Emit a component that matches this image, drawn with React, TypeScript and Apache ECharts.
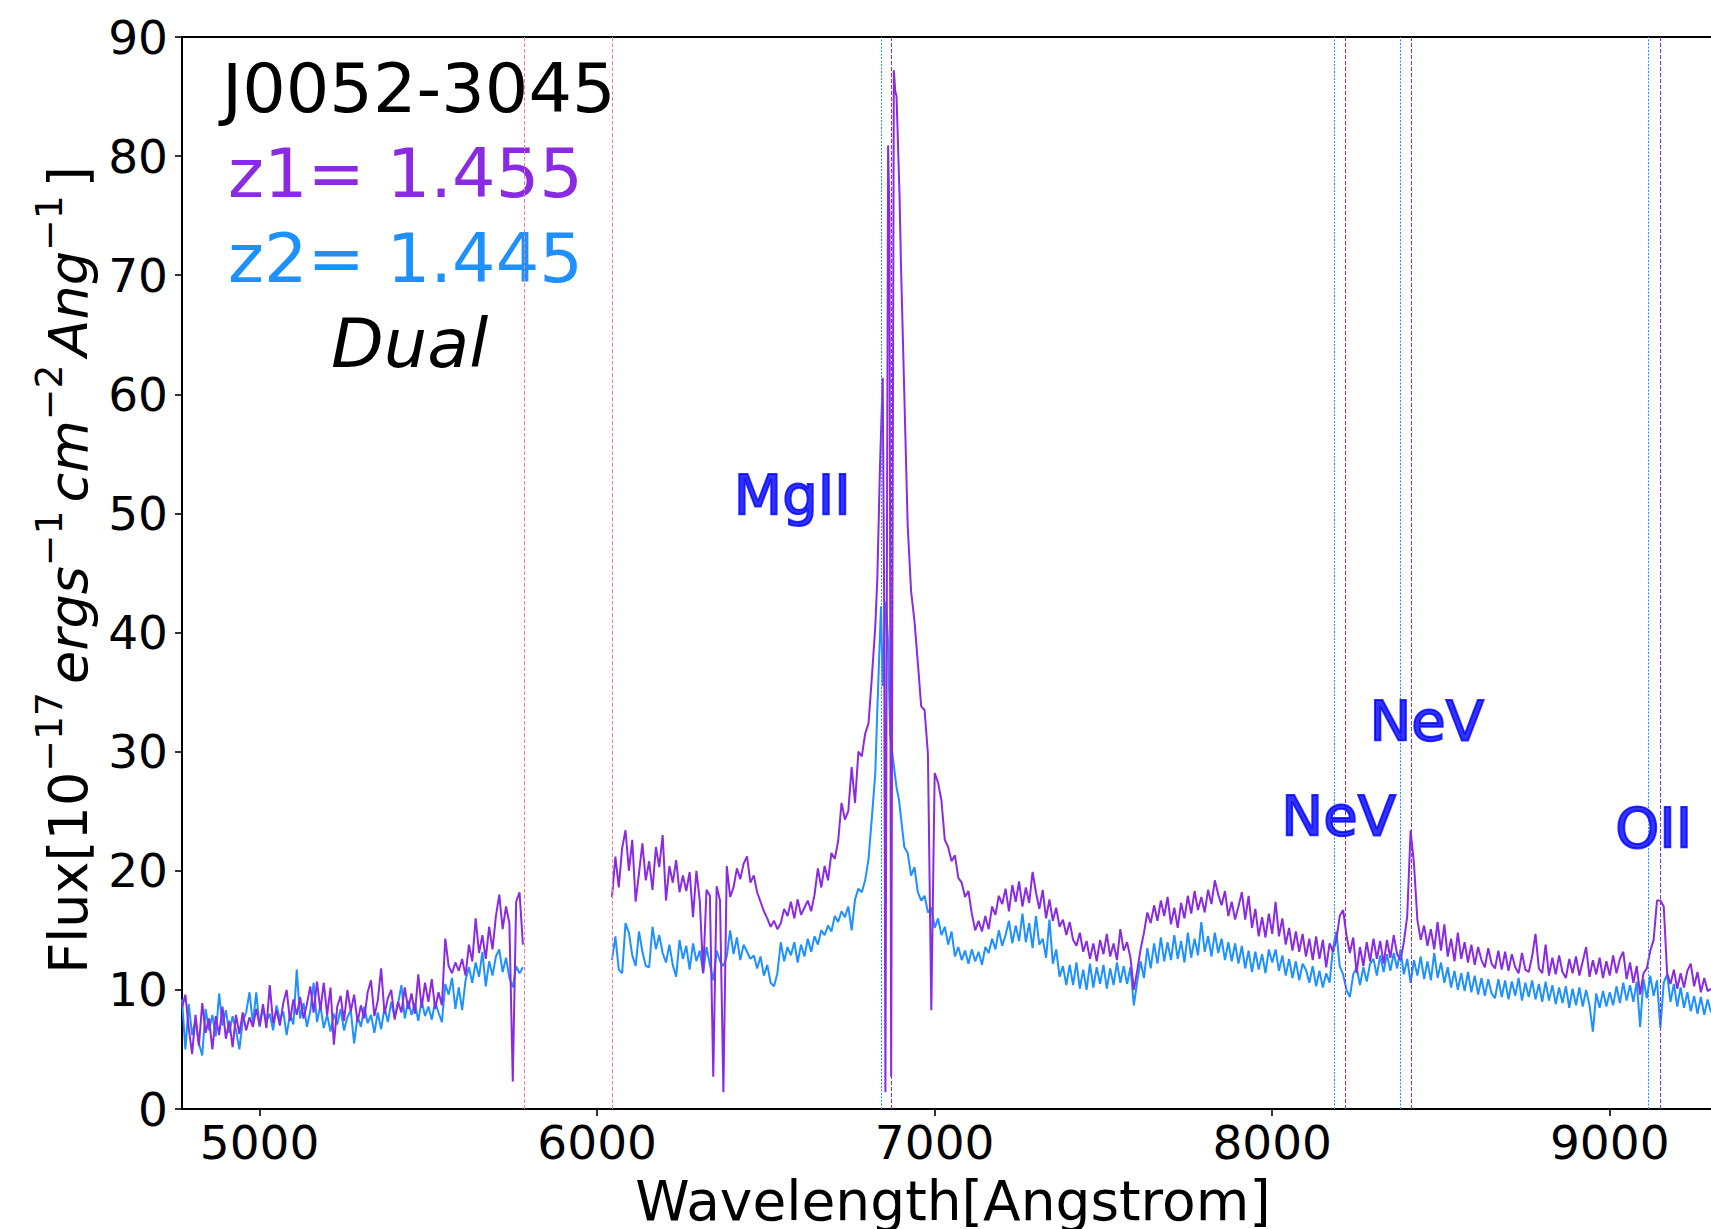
import React, { useEffect, useRef } from 'react';
import * as echarts from 'echarts';

const WIDTH = 1711;
const HEIGHT = 1229;
const FONT = '"DejaVu Sans", "Liberation Sans", sans-serif';

// axes
const X_MIN = 4770;
const X_MAX = 9300;
const X_TICKS = [5000, 6000, 7000, 8000, 9000];
const Y_MIN = 0;
const Y_MAX = 90;
const Y_STEP = 10;

// colours
const C_Z1 = '#8A2BE2';
const C_Z2 = '#1E90FF';
const C_MASK = '#F08494';
const C_LABEL = '#0000FF';

// redshifts and rest-frame lines
const Z1 = 1.455;
const Z2 = 1.445;
const REST_LINES = [2798.75, 3346.8, 3426.8, 3727.4];
const MASK_LINES = [5783, 6044];

// line labels
const LABEL_NAMES = ['MgII', 'NeV', 'NeV', 'OII'];
const LABEL_WL = [6405, 8027, 8288, 9016];
const LABEL_FLUX = [51.6, 24.6, 32.6, 23.6];

// spectrum, segment A (blue side of chip gap), 10 A sampling
const SEG_STEP = 10;
const SEG_A_START = 4770;
const purpleA = [
  8.5, 9.6, 6.8, 4.6, 7.9, 5.3, 8.9, 6.4, 7.6, 5.0,
  7.8, 6.2, 8.6, 5.9, 7.4, 5.2, 7.9, 6.3, 8.1, 6.6,
  7.7, 6.9, 8.4, 7.0, 8.8, 6.8, 10.4, 7.2, 8.3, 7.0,
  8.9, 10.0, 7.4, 9.2, 7.9, 9.4, 7.6, 8.8, 10.3, 8.1,
  10.7, 8.3, 10.6, 7.9, 10.2, 5.4, 8.6, 9.5, 7.4, 10.0,
  8.2, 9.6, 7.3, 8.7, 7.6, 9.8, 10.8, 7.8, 9.1, 11.8,
  8.0, 9.3, 10.0, 7.5, 9.0, 8.1, 10.2, 8.4, 9.7, 8.0,
  11.3, 8.5, 10.6, 9.0, 10.9, 8.4, 9.8, 8.7, 14.3, 12.0,
  11.4, 12.3, 11.6, 12.6, 11.2, 13.8, 12.4, 16.0, 13.1, 14.6,
  12.6, 15.3, 13.4, 16.2, 18.0, 15.1, 17.0, 15.6, 2.3, 17.4,
  18.2, 13.8,
];
const blueA = [
  9.2, 5.0, 8.8, 6.2, 7.5, 5.5, 4.5, 8.4, 6.6, 7.9,
  6.1, 9.7, 7.0, 8.3, 6.4, 7.8, 6.6, 5.0, 7.4, 8.1,
  9.8, 7.2, 9.8, 6.9, 8.5, 7.3, 8.0, 6.6, 8.7, 7.5,
  8.2, 6.2, 8.0, 7.1, 11.7, 7.6, 8.9, 6.9, 8.2, 10.6,
  7.3, 8.7, 6.8, 7.9, 6.5, 8.0, 7.1, 8.4, 6.6, 7.7,
  8.3, 5.5, 7.8, 6.9, 8.6, 7.2, 7.9, 6.4, 8.1, 6.7,
  8.5, 7.3, 9.0, 7.7, 8.8, 10.4, 7.6, 9.1, 7.9, 8.9,
  7.4, 9.1, 7.8, 8.6, 7.5, 9.0, 8.1, 7.3, 10.5, 9.6,
  11.0, 8.4, 10.2, 8.3, 10.8, 11.9, 10.6, 12.3, 11.1, 13.2,
  10.3, 12.4, 11.2, 12.8, 13.4, 11.5, 12.7, 11.0, 10.2, 12.0,
  11.4, 11.9,
];

// segment B (red side of gap up to MgII wing)
const SEG_B_START = 6044;
const purpleB = [
  17.8, 21.2, 18.6, 21.9, 23.4, 20.0, 22.6, 17.4, 19.8, 22.3,
  19.2, 20.8, 18.4, 22.0, 20.3, 23.0, 17.5, 20.4, 19.0, 20.9,
  18.2, 19.6, 18.3, 19.9, 16.1, 20.0, 17.5, 11.4, 18.4, 17.9,
  2.7, 18.7, 17.5, 1.4, 20.4, 17.8, 18.6, 20.2, 19.3, 20.6,
  21.2, 19.0, 19.6, 18.2, 17.4, 16.6, 16.0, 15.3, 15.8, 15.1,
  15.6, 16.8, 16.2, 17.4, 16.0, 17.6, 16.3, 16.9, 17.5, 16.6,
  18.0, 20.2, 18.6, 20.4, 19.2, 21.5, 21.0, 22.5, 25.7, 24.3,
  25.0, 28.7, 25.7, 30.0, 29.6, 31.5, 32.4, 36.3, 40.5,
];
const blueB = [
  12.5, 14.5, 11.7, 11.4, 15.6, 14.8, 12.9, 12.0, 14.9, 13.2,
  12.0, 11.9, 15.3, 13.4, 14.6, 13.1, 12.3, 13.8, 12.1, 11.1,
  14.2, 12.6, 13.7, 11.7, 13.9, 12.4, 13.3, 11.4, 13.6, 12.1,
  10.8, 13.3, 12.4, 12.0, 12.8, 15.0, 13.0, 14.4, 12.5, 13.8,
  13.2, 12.6, 12.9, 11.8, 12.8, 11.2, 12.1, 10.6, 10.3, 11.4,
  14.0, 12.4, 13.6, 12.9, 14.0, 12.3, 13.8, 12.8, 14.3, 13.2,
  14.5, 13.8, 15.0, 14.6, 15.4, 14.9, 16.2, 15.7, 16.6, 16.1,
  17.0, 15.0, 17.6, 18.5, 18.2, 19.2, 21.0, 24.5, 28.2,
];

// MgII core, finer sampling
const corePurpleWl = [6830, 6838, 6846, 6850, 6854, 6862, 6866, 6871, 6879, 6883, 6887, 6896];
const corePurple = [44.5, 54.0, 61.4, 44.0, 1.4, 80.9, 75.0, 2.7, 87.2, 85.5, 85.0, 76.6];
const coreBlueWl = [6830, 6835, 6841, 6846, 6851, 6856, 6862, 6868, 6874, 6880, 6887, 6894];
const coreBlue = [33.5, 37.5, 42.2, 35.5, 40.0, 42.6, 39.0, 31.5, 30.0, 28.6, 27.0, 26.0];

// segment C (6900 - 9300)
const SEG_C_START = 6900;
const purpleC = [
  71.0, 60.0, 49.0, 43.5, 41.0, 37.5, 33.8, 33.5, 29.8, 8.3,
  28.2, 27.4, 25.9, 22.6, 22.0, 20.8, 21.3, 19.4, 19.0, 17.8,
  18.3, 16.4, 15.0, 15.8, 14.9, 16.2, 15.1, 17.0, 16.3, 17.9,
  17.2, 18.5, 16.6, 18.8, 17.4, 19.1, 17.0, 18.6, 17.3, 19.9,
  18.2, 16.8, 18.4, 16.0, 17.6, 15.8, 16.9, 15.3, 15.9, 14.6,
  15.7, 14.2, 13.7, 14.8, 13.2, 14.1, 12.6, 13.9, 12.4, 14.2,
  13.0, 14.7, 12.8, 13.9, 12.5, 15.1, 13.3, 14.0, 12.7, 10.0,
  11.6, 13.4, 14.8, 16.5, 15.6, 17.1, 15.8, 17.5, 16.2, 17.8,
  15.5, 16.9, 15.2, 17.3, 16.0, 17.9, 16.4, 18.3, 16.7, 17.8,
  16.5, 18.4, 17.2, 19.2, 18.0, 17.1, 18.3, 16.2, 17.4, 15.9,
  17.0, 18.2, 15.9, 17.9, 15.2, 16.8, 14.5, 16.1, 14.4, 16.4,
  14.7, 17.4, 14.5, 16.0, 13.8, 15.2, 13.3, 14.9, 13.2, 14.7,
  12.8, 14.3, 12.5, 14.5, 12.6, 14.2, 11.9, 13.9, 13.2, 14.2,
  16.2, 16.7, 14.6, 13.1, 14.4, 11.4, 13.6, 12.0, 14.0, 12.4,
  14.3, 12.6, 14.1, 12.2, 14.2, 12.7, 14.6, 13.0, 12.5, 14.0,
  16.2, 23.4, 20.6, 15.9, 14.2, 15.4, 13.7, 15.1, 13.4, 15.7,
  13.3, 15.5, 12.8, 14.3, 12.4, 14.8, 12.6, 14.0, 12.3, 13.8,
  12.1, 13.6, 12.5, 11.9, 13.5, 12.2, 11.8, 13.3, 11.7, 13.2,
  11.6, 13.0, 11.9, 11.4, 13.1, 11.7, 11.5, 12.8, 14.7, 11.8,
  11.4, 13.8, 11.2, 12.7, 11.3, 12.9, 11.5, 11.0, 12.6, 11.4,
  12.8, 11.2, 12.4, 13.6, 11.1, 12.5, 11.3, 12.7, 11.0, 12.4,
  11.2, 12.9, 11.4, 12.6, 13.2, 10.9, 12.3, 10.6, 12.0, 9.6,
  11.4, 11.8, 13.3, 14.2, 17.5, 17.5, 17.0, 11.4, 10.5, 11.7,
  10.1, 11.4, 10.2, 11.6, 12.2, 10.3, 11.5, 9.8, 11.0, 9.9,
  10.1,
];
const blueC = [
  24.5, 22.0, 21.5, 19.6, 20.3, 18.2, 17.5, 17.9, 16.5, 16.9,
  15.2, 16.0, 14.6, 15.3, 13.8, 14.9, 12.8, 13.6, 12.5, 13.3,
  12.2, 13.4, 12.4, 13.2, 12.1, 13.6, 13.1, 14.3, 13.4, 15.0,
  13.7, 14.6, 15.8, 13.9, 15.4, 14.1, 16.4, 14.0, 15.6, 13.5,
  16.2, 13.8, 14.3, 12.7, 15.9, 12.2, 13.4, 11.1, 12.0, 10.4,
  12.1, 10.4, 12.3, 10.1, 11.7, 10.0, 12.2, 10.2, 11.9, 10.5,
  12.1, 10.1, 11.8, 10.4, 12.3, 10.6, 12.0, 10.5, 11.9, 8.7,
  10.7, 12.4, 11.0, 13.5, 11.8, 13.9, 12.2, 14.4, 12.4, 14.0,
  12.5, 14.6, 12.6, 14.1, 12.3, 14.8, 12.7, 14.3, 12.9, 15.7,
  13.2, 14.5, 12.8, 14.8, 13.1, 14.3, 12.5, 14.0, 12.4, 13.9,
  12.2, 13.7, 11.8, 13.3, 11.5, 13.2, 11.7, 13.0, 11.4, 13.4,
  12.3, 13.4, 11.6, 12.9, 11.2, 12.6, 11.0, 12.4, 10.8, 12.2,
  11.7, 10.6, 12.0, 10.3, 11.6, 10.2, 11.4, 10.6, 13.5, 14.9,
  12.0, 11.3, 10.0, 9.4, 11.3, 11.9, 10.4, 11.9, 10.7, 12.2,
  12.6, 11.2, 12.9, 11.5, 13.0, 11.6, 13.1, 11.8, 13.4, 11.3,
  12.6, 10.6, 12.5, 11.2, 12.8, 10.9, 12.4, 10.8, 13.1, 11.0,
  12.3, 10.6, 11.9, 10.2, 11.6, 10.0, 11.4, 9.9, 11.5, 9.8,
  11.2, 9.6, 11.0, 9.5, 10.9, 9.7, 9.3, 10.9, 9.4, 10.8,
  9.2, 10.7, 9.5, 11.0, 9.1, 10.6, 9.4, 10.8, 9.2, 10.5,
  9.0, 10.7, 9.1, 10.4, 8.8, 10.2, 8.9, 10.3, 8.5, 10.1,
  8.7, 10.2, 8.6, 10.0, 8.7, 6.5, 9.7, 8.5, 9.9, 8.6,
  9.8, 8.7, 10.3, 8.9, 10.6, 9.1, 10.4, 9.0, 10.7, 6.9,
  10.9, 9.3, 11.2, 9.5, 10.8, 6.8, 10.6, 11.3, 9.0, 10.5,
  8.6, 10.2, 8.5, 9.8, 8.2, 9.5, 8.0, 9.4, 7.9, 9.2,
  8.1,
];

// layout
const GRID_LEFT = 182;
const GRID_TOP = 37;
const GRID_BOTTOM_Y = 1109;

const seg = (start: number, step: number, vals: number[]) =>
  vals.map((v, i) => [start + i * step, v]);
const pairs = (wl: number[], vals: number[]) => wl.map((w, i) => [w, vals[i]]);
const GAP = [(MASK_LINES[0] + MASK_LINES[1]) / 2, '-'];

const purpleData = [
  ...seg(SEG_A_START, SEG_STEP, purpleA),
  GAP,
  ...seg(SEG_B_START, SEG_STEP, purpleB),
  ...pairs(corePurpleWl, corePurple),
  ...seg(SEG_C_START, SEG_STEP, purpleC),
];
const blueData = [
  ...seg(SEG_A_START, SEG_STEP, blueA),
  GAP,
  ...seg(SEG_B_START, SEG_STEP, blueB),
  ...pairs(coreBlueWl, coreBlue),
  ...seg(SEG_C_START, SEG_STEP, blueC),
];

function textStyle(text: string, font: string, fill: string) {
  return {
    text,
    font,
    fill,
    x: 0,
    y: 0,
    align: 'left',
    verticalAlign: 'middle',
    textAlign: 'left',
    textVerticalAlign: 'middle',
  };
}

export default function App() {
  const ref = useRef<HTMLDivElement>(null);

  useEffect(() => {
    document.body.style.margin = '0';
    document.documentElement.style.overflow = 'hidden';
    const chart = echarts.init(ref.current!, null, { renderer: 'svg' });

    const canvas = document.createElement('canvas');
    const ctx = canvas.getContext('2d')!;
    const measure = (t: string, f: string) => {
      ctx.font = f;
      return ctx.measureText(t).width;
    };

    // y-axis title built from fragments (mathtext-like)
    const BASE = 54;
    const SUP = 37.8;
    const SUP_GAP = 8;
    const fN = `normal ${BASE}px ${FONT}`;
    const fI = `italic ${BASE}px ${FONT}`;
    const fS = `normal ${SUP}px ${FONT}`;
    const frags = [
      { t: 'Flux[10', f: fN, sup: false },
      { t: '\u221217', f: fS, sup: true },
      { t: 'ergs', f: fI, sup: false },
      { t: '\u22121', f: fS, sup: true },
      { t: 'cm', f: fI, sup: false },
      { t: '\u22122', f: fS, sup: true },
      { t: 'Ang', f: fI, sup: false },
      { t: '\u22121', f: fS, sup: true },
      { t: ']', f: fN, sup: false },
    ];
    const widths = frags.map((fr) => measure(fr.t, fr.f) + (fr.sup ? SUP_GAP : 0));
    const total = widths.reduce((a, b) => a + b, 0);
    const baseX = 87;
    const supX = 62.5;
    const centerY = 570;
    let yCur = centerY + total / 2;
    const yTitle: any[] = [];
    frags.forEach((fr, i) => {
      const fs = fr.sup ? SUP : BASE;
      const bx = fr.sup ? supX : baseX;
      yTitle.push({
        type: 'text',
        x: bx - 0.346 * fs,
        y: yCur,
        rotation: Math.PI / 2,
        silent: true,
        style: textStyle(fr.t, fr.f, '#000'),
      });
      yCur -= widths[i];
    });

    const TITLE_FS = 68.5;
    const off = 0.346 * TITLE_FS;
    const titleTexts = [
      { t: 'J0052-3045', x: 222, base: 112, c: '#000', f: `normal ${TITLE_FS}px ${FONT}` },
      { t: 'z1= 1.455', x: 228, base: 197, c: C_Z1, f: `normal ${TITLE_FS}px ${FONT}` },
      { t: 'z2= 1.445', x: 228, base: 282, c: C_Z2, f: `normal ${TITLE_FS}px ${FONT}` },
      { t: 'Dual', x: 331, base: 367, c: '#000', f: `italic ${TITLE_FS}px ${FONT}` },
    ].map((o) => ({
      type: 'text',
      x: o.x,
      y: o.base - off,
      silent: true,
      style: textStyle(o.t, o.f, o.c),
    }));

    const XNAME_FS = 55;
    const xName = {
      type: 'text',
      x: 953,
      y: 1220 - 0.346 * XNAME_FS,
      silent: true,
      style: {
        ...textStyle('Wavelength[Angstrom]', `normal ${XNAME_FS}px ${FONT}`, '#000'),
        align: 'center',
        textAlign: 'center',
      },
    };

    const axisLineStyle = { color: '#000', width: 2 };
    const tickStyle = { color: '#000', width: 1.6 };

    const option: any = {
      animation: false,
      backgroundColor: '#ffffff',
      grid: {
        left: GRID_LEFT,
        right: 0,
        top: GRID_TOP,
        bottom: HEIGHT - GRID_BOTTOM_Y,
        containLabel: false,
      },
      xAxis: [
        {
          type: 'value',
          min: X_MIN,
          max: X_MAX,
          position: 'bottom',
          axisLine: { show: true, onZero: false, lineStyle: axisLineStyle },
          axisTick: { show: true, inside: false, length: 7, lineStyle: tickStyle, customValues: X_TICKS },
          axisLabel: {
            show: true,
            customValues: X_TICKS,
            margin: 10,
            fontSize: 47,
            fontFamily: FONT,
            color: '#000',
            formatter: (v: number) => String(v),
          },
          splitLine: { show: false },
        },
        {
          type: 'value',
          min: X_MIN,
          max: X_MAX,
          position: 'top',
          axisLine: { show: true, onZero: false, lineStyle: axisLineStyle },
          axisTick: { show: false },
          axisLabel: { show: false },
          splitLine: { show: false },
        },
      ],
      yAxis: {
        type: 'value',
        min: Y_MIN,
        max: Y_MAX,
        interval: Y_STEP,
        axisLine: { show: true, onZero: false, lineStyle: axisLineStyle },
        axisTick: { show: true, inside: false, length: 7, lineStyle: tickStyle },
        axisLabel: { margin: 14, fontSize: 47, fontFamily: FONT, color: '#000' },
        splitLine: { show: false },
      },
      series: [
        {
          type: 'line',
          name: 'z2',
          data: blueData,
          showSymbol: false,
          symbol: 'none',
          connectNulls: false,
          silent: true,
          lineStyle: { color: C_Z2, width: 2 },
          itemStyle: { color: C_Z2 },
          z: 2,
          markLine: {
            symbol: ['none', 'none'],
            silent: true,
            animation: false,
            label: { show: false },
            lineStyle: { color: C_Z2, width: 1, type: [2, 1.5] },
            data: REST_LINES.map((r) => ({ xAxis: r * (1 + Z2) })),
          },
        },
        {
          type: 'line',
          name: 'z1',
          data: purpleData,
          showSymbol: false,
          symbol: 'none',
          connectNulls: false,
          silent: true,
          lineStyle: { color: C_Z1, width: 2 },
          itemStyle: { color: C_Z1 },
          z: 3,
          markLine: {
            symbol: ['none', 'none'],
            silent: true,
            animation: false,
            label: { show: false },
            lineStyle: { color: C_Z1, width: 1, type: [4, 2] },
            data: [
              ...REST_LINES.map((r) => ({ xAxis: r * (1 + Z1) })),
              ...MASK_LINES.map((m) => ({
                xAxis: m,
                lineStyle: { color: C_MASK, width: 1, type: [4, 2] },
              })),
            ],
          },
        },
        {
          type: 'scatter',
          name: 'labels',
          symbolSize: 0,
          silent: true,
          z: 5,
          data: LABEL_NAMES.map((n, i) => ({ name: n, value: [LABEL_WL[i], LABEL_FLUX[i]] })),
          label: {
            show: true,
            position: 'right',
            distance: 0,
            formatter: (p: any) => p.name,
            color: C_LABEL,
            fontSize: 56,
            fontFamily: FONT,
            textBorderColor: C_LABEL,
            textBorderWidth: 2,
          },
        },
      ],
      graphic: [...titleTexts, xName, ...yTitle],
    };

    chart.setOption(option);
    return () => chart.dispose();
  }, []);

  return <div ref={ref} style={{ width: WIDTH, height: HEIGHT }} />;
}
